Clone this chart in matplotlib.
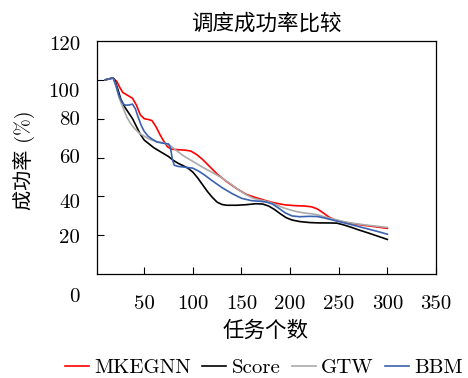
import numpy as np
import matplotlib
matplotlib.use("Agg")
import matplotlib.pyplot as plt

plt.rcParams['font.family'] = ['cmr10', 'Noto Sans CJK SC']
plt.rcParams['axes.unicode_minus'] = False
plt.rcParams['mathtext.fontset'] = 'cm'

# donnees
x_red = [10, 14, 18, 22, 25, 28, 33, 38, 42, 46, 50, 55, 58, 62, 66, 70, 74, 78, 85, 92, 98,
         104, 110, 118, 125, 135, 145, 155, 165, 175, 185, 195, 205, 215, 222, 228, 234, 240,
         246, 252, 260, 270, 280, 290, 300]
y_red = [100, 100.5, 101, 99, 96, 93.5, 92, 90.5, 87, 82, 80, 79.5, 79, 76, 72, 68.5, 65.5, 64.3,
         64, 63.8, 63.3, 61.5, 59, 55, 51.5, 47.5, 44, 41, 39.3, 37.8, 36.5, 35.6, 35.2, 35,
         34.6, 33.5, 31.5, 29.3, 27.9, 27.1, 26.3, 25.5, 24.8, 24.2, 23.5]

x_black = [10, 14, 18, 20, 23, 26, 30, 34, 38, 42, 46, 50, 55, 60, 65, 70, 75, 80, 85, 90, 95,
           100, 105, 110, 115, 120, 125, 130, 135, 145, 155, 165, 172, 178, 184, 190, 196, 202,
           210, 220, 230, 240, 248, 255, 262, 270, 280, 290, 300]
y_black = [100, 100.5, 101, 99.5, 95, 90, 86, 83, 80, 76, 72, 69, 67, 65, 63.5, 62, 60.5, 58.5,
           57, 55.8, 54.5, 52.5, 49.5, 46, 42.5, 39.5, 37, 35.8, 35.4, 35.4, 35.7, 36.2, 36, 35,
           33.2, 31, 29, 27.8, 27, 26.5, 26.3, 26.3, 26.2, 25.3, 24.2, 22.8, 21.2, 19.5, 17.8]

x_gray = [10, 14, 18, 21, 24, 28, 32, 36, 40, 45, 50, 55, 62, 70, 76, 82, 90, 100, 110, 120,
          130, 140, 148, 155, 162, 170, 178, 185, 192, 200, 208, 215, 222, 228, 235, 245, 255,
          265, 280, 300]
y_gray = [100, 100.5, 101, 97, 91, 86, 81, 77.5, 75, 72.5, 71, 69.5, 68.3, 67.5, 66.5, 64, 61,
          58, 55, 52.3, 49.5, 46, 43, 40.8, 39, 38, 37.2, 35.8, 34.3, 33, 32, 31.4, 31, 30.5,
          29.5, 28.2, 27, 26.1, 25.1, 24]

x_blue = [10, 14, 18, 21, 24, 27, 30, 34, 38, 41, 44, 47, 50, 54, 58, 63, 70, 75, 77, 79, 81,
          85, 92, 100, 106, 112, 120, 130, 140, 150, 160, 170, 176, 182, 188, 195, 202, 210,
          220, 228, 235, 242, 250, 260, 270, 280, 290, 300]
y_blue = [100, 100.5, 101, 97, 92, 88.5, 87, 87, 87.5, 85, 80.5, 76.5, 73.5, 71, 69.5, 68, 67.3,
          67, 65, 59, 56, 55.4, 55, 54.5, 53, 51, 48, 44.5, 41.5, 39, 37.8, 37.4, 37, 36, 34,
          31.5, 29.9, 29.5, 29.7, 29.6, 28.9, 28, 27, 25.8, 24.5, 23.2, 21.9, 20.5]

xticks = [50, 100, 150, 200, 250, 300, 350]
yticks = [20, 40, 60, 80, 100]
ylabels = ['120', '100', '80', '60', '40', '20', '0']
ylabel_pix = [45, 91.7, 120, 158.3, 203.3, 238.3, 297]   # positions (px) des etiquettes y

W, H = 468, 378
fig = plt.figure(figsize=(W / 100, H / 100), dpi=100)
ax = fig.add_axes([97 / W, 1 - 274 / H, (436 - 97) / W, (274 - 41) / H])

ax.plot(x_red, y_red, color='#ff0000', lw=1.2, label='MKEGNN')
ax.plot(x_black, y_black, color='black', lw=1.2, label='Score')
ax.plot(x_gray, y_gray, color='#aaaaaa', lw=1.2, label='GTW')
ax.plot(x_blue, y_blue, color='#3a62b0', lw=1.2, label='BBM')

ax.set_xlim(1.5, 350)
ax.set_ylim(0, 120)
ax.set_xticks(xticks)
ax.set_xticklabels([str(v) for v in xticks], fontsize=15)
ax.set_yticks(yticks)
ax.set_yticklabels([])
ax.tick_params(axis='x', direction='in', length=5, pad=15)
ax.tick_params(axis='y', direction='in', length=5)
for s in ax.spines.values():
    s.set_linewidth(0.9)

# etiquettes y placees comme sur l'original
for lab, py in zip(ylabels, ylabel_pix):
    fig.text(80 / W, 1 - py / H, lab, ha='right', va='center', fontsize=15)

ax.set_title('调度成功率比较', fontsize=15.5, pad=8)
fig.text(266 / W, 1 - 331 / H, '任务个数', ha='center', va='center', fontsize=15.5)
fig.text(24 / W, 1 - 160 / H, '成功率 (%)', ha='center', va='center', rotation=90, fontsize=14.5)

fig.legend(loc='center', bbox_to_anchor=(264 / W, 1 - 368 / H), ncol=4, frameon=False,
           fontsize=15, handlelength=1.15, handletextpad=0.25, columnspacing=0.55,
           borderpad=0)

fig.savefig('out.png', dpi=100)
